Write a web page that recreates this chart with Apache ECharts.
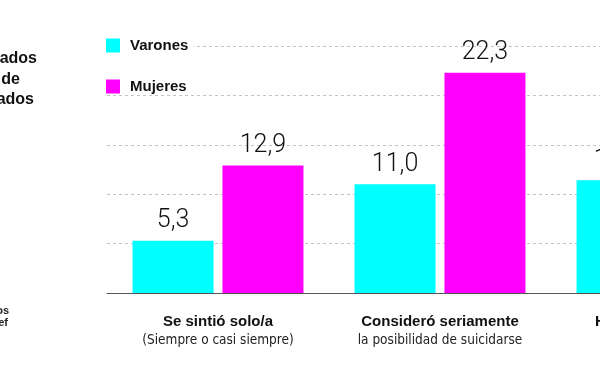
<!DOCTYPE html>
<html>
<head>
<meta charset="utf-8">
<script src="https://cdn.jsdelivr.net/npm/echarts@6/dist/echarts.min.js"></script>
<style>
html,body{margin:0;padding:0;background:#fff;overflow:hidden;width:600px;height:365px;}
#c{width:800px;height:365px;}
</style>
</head>
<body>
<div id="c"></div>
<script>
var categoriesBold = ['Se sintió solo/a', 'Consideró seriamente', 'Hizo un plan sobre'];
var categoriesSub = ['(Siempre o casi siempre)', 'la posibilidad de suicidarse', 'cómo suicidarse'];
var varones = [5.3, 11.0, 11.4];
var mujeres = [12.9, 22.3, 18.9];
var seriesNames = ['Varones', 'Mujeres'];
var titleFragments = ['ados', 'de', 'ados'];
var noteFragments = ['os', 'ef'];

var categories = categoriesBold.map(function (b, i) { return b + '\n' + categoriesSub[i]; });
function fmt(v) { return v.toFixed(1).replace('.', ','); }

var chart = echarts.init(document.getElementById('c'), null, {renderer: 'canvas'});
var labelStyle = {
  show: true, position: 'top', distance: 7,
  fontFamily: 'Roboto', fontWeight: 300, fontSize: 25, color: '#111',
  formatter: function (p) { return fmt(p.value); }
};
chart.setOption({
  animation: false,
  backgroundColor: '#fff',
  grid: {left: 107, top: 46, width: 666, bottom: 72, containLabel: false},
  legend: {
    orient: 'vertical', left: 106, top: 38,
    padding: [0, 5, 0, 0], itemGap: 26,
    itemWidth: 14, itemHeight: 14,
    backgroundColor: '#fff',
    icon: 'rect',
    data: seriesNames,
    textStyle: {fontFamily: 'Liberation Sans, Arial, sans-serif', fontWeight: 'bold', fontSize: 15, color: '#111', padding: [0, 0, 0, 5], lineHeight: 14}
  },
  xAxis: {
    type: 'category', data: categories,
    axisLine: {lineStyle: {color: '#555', width: 1}},
    axisTick: {inside: true, length: 6, lineStyle: {color: '#555'}},
    axisLabel: {
      interval: 0, margin: 20,
      formatter: function (v) {
        var p = v.split('\n');
        return '{b|' + p[0] + '}\n{r|' + p[1] + '}';
      },
      rich: {
        b: {fontFamily: 'Liberation Sans, Arial, sans-serif', fontWeight: 'bold', fontSize: 15, color: '#111', lineHeight: 18},
        r: {fontFamily: 'Liberation Sans Narrow, DejaVu Sans Condensed, sans-serif', fontSize: 13.5, color: '#222', lineHeight: 18}
      }
    }
  },
  yAxis: {
    type: 'value', min: 0, max: 25, interval: 5,
    axisLine: {show: false}, axisTick: {show: false}, axisLabel: {show: false},
    splitLine: {lineStyle: {color: '#c4c4c4', type: [3, 3], width: 1}}
  },
  series: [
    {name: seriesNames[0], type: 'bar', data: varones, barWidth: 81, barGap: '11%',
     itemStyle: {color: '#00FFFF'}, label: labelStyle},
    {name: seriesNames[1], type: 'bar', data: mujeres, barWidth: 81, barGap: '11%',
     itemStyle: {color: '#FF00FF'}, label: labelStyle}
  ],
  graphic: [
    {type: 'text', x: 37, y: 59, style: {text: titleFragments[0], align: 'right', verticalAlign: 'middle', font: 'bold 16px "Liberation Sans", Arial, sans-serif', fill: '#111'}},
    {type: 'text', x: 20, y: 80, style: {text: titleFragments[1], align: 'right', verticalAlign: 'middle', font: 'bold 16px "Liberation Sans", Arial, sans-serif', fill: '#111'}},
    {type: 'text', x: 34, y: 100, style: {text: titleFragments[2], align: 'right', verticalAlign: 'middle', font: 'bold 16px "Liberation Sans", Arial, sans-serif', fill: '#111'}},
    {type: 'text', x: 9, y: 311, style: {text: noteFragments[0], align: 'right', verticalAlign: 'middle', font: 'bold 11px "Liberation Sans Narrow", sans-serif', fill: '#222'}},
    {type: 'text', x: 8, y: 323, style: {text: noteFragments[1], align: 'right', verticalAlign: 'middle', font: 'bold 11px "Liberation Sans Narrow", sans-serif', fill: '#222'}}
  ]
});
</script>
</body>
</html>
